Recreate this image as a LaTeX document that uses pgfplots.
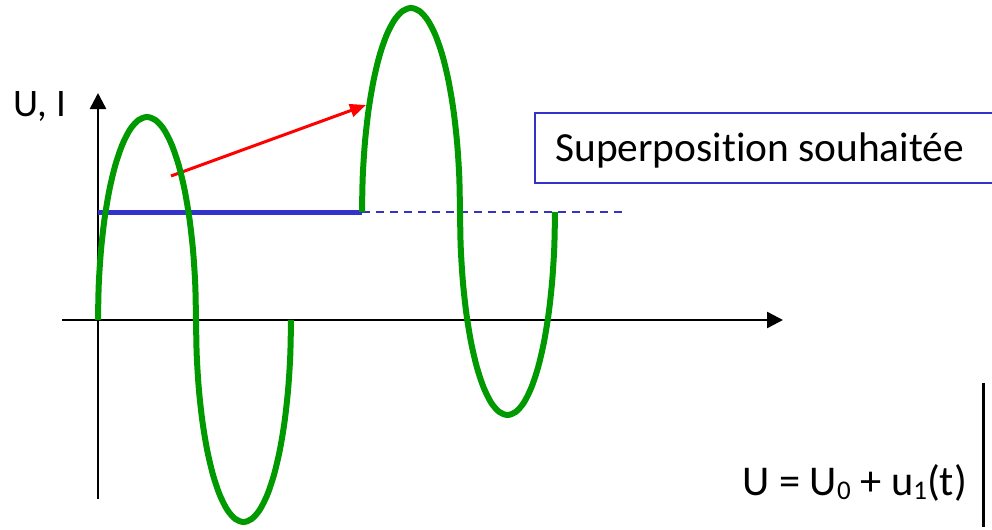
\documentclass[border=0pt]{standalone}
\usepackage{pgfplots}
\pgfplotsset{compat=1.18}
\usepackage{fontspec}
\setmainfont{Carlito}[Ligatures={NoCommon}]
\usetikzlibrary{arrows.meta}
\definecolor{cgreen}{RGB}{0,153,0}
\definecolor{cblue}{RGB}{51,51,204}
\definecolor{cred}{RGB}{255,0,0}
\begin{document}
\begin{tikzpicture}
\begin{axis}[name=ax, scale only axis, width=496pt, height=265pt,
  xmin=0, xmax=992, ymin=0, ymax=530, y dir=reverse,
  axis lines=none, clip=false]
% axes
\addplot[black, line width=1.25pt, -{Triangle[length=8pt,width=8pt]}] coordinates {(98,499) (98,93)};
\addplot[black, line width=1.25pt, -{Triangle[length=8pt,width=8pt]}] coordinates {(62,320) (783,320)};
% U0 level
\addplot[cblue, line width=2.5pt] coordinates {(98,212) (362,212)};
\addplot[cblue, line width=1.1pt, dash pattern=on 4pt off 3pt] coordinates {(362,212) (623,212)};
% red arrow
\addplot[cred, line width=1.5pt, -{Triangle[length=8pt,width=6.5pt]}] coordinates {(171,176) (366,105)};
% green signal u1(t)
\addplot[cgreen, line width=3pt, smooth] coordinates {
(98,320) (98.74,284.8) (100.95,250.6) (104.57,218.5) (109.47,189.5) (115.5,164.5) (122.5,144.2) (130.24,129.2) (138.49,120.1) (147,117)
(155.51,120.1) (163.76,129.2) (171.5,144.2) (178.5,164.5) (184.53,189.5) (189.43,218.5) (193.05,250.6) (195.26,284.8) (196,320)
(196.72,355.1) (198.86,389.1) (202.36,421) (207.11,449.8) (212.97,474.7) (219.75,494.9) (227.25,509.8) (235.25,518.9) (243.5,522)
(251.75,518.9) (259.75,509.8) (267.25,494.9) (274.03,474.7) (279.89,449.8) (284.64,421) (288.14,389.1) (290.28,355.1) (291,320)};
% green signal U0 + u1(t)
\addplot[cgreen, line width=3pt, smooth] coordinates {
(362,212) (362.74,176.6) (364.95,142.2) (368.57,110) (373.47,80.9) (379.5,55.7) (386.5,35.3) (394.24,20.3) (402.49,11.1) (411,8)
(419.51,11.1) (427.76,20.3) (435.5,35.3) (442.5,55.7) (448.53,80.9) (453.43,110) (457.05,142.2) (459.26,176.6) (460,212)
(460.72,247.2) (462.86,281.4) (466.36,313.5) (471.11,342.5) (476.97,367.5) (483.75,387.8) (491.25,402.8) (499.25,411.9) (507.5,415)
(515.75,411.9) (523.75,402.8) (531.25,387.8) (538.03,367.5) (543.89,342.5) (548.64,313.5) (552.14,281.4) (554.28,247.2) (555,212)};
% box
\draw[cblue, line width=1pt] (axis cs:535,113) rectangle (axis cs:1010,183);
\node[anchor=base west, inner sep=0pt] at (axis cs:555,161) {\fontsize{20.7}{22}\selectfont Superposition souhaitée};
% labels
\node[anchor=base west, inner sep=0pt] at (axis cs:13,116) {\fontsize{19.5}{21}\selectfont U, I};
\node[anchor=base west, inner sep=0pt] at (axis cs:742,495) {\fontsize{21.2}{23}\selectfont U = U\raisebox{-2pt}{\fontsize{13.5}{14}\selectfont 0} + u\raisebox{-2pt}{\fontsize{13.5}{14}\selectfont 1}(t)};
\draw[black, line width=1.5pt] (axis cs:983,383) -- (axis cs:983,527);
\end{axis}
\pgfresetboundingbox
\path (ax.south west) rectangle (ax.north east);
\end{tikzpicture}
\end{document}
